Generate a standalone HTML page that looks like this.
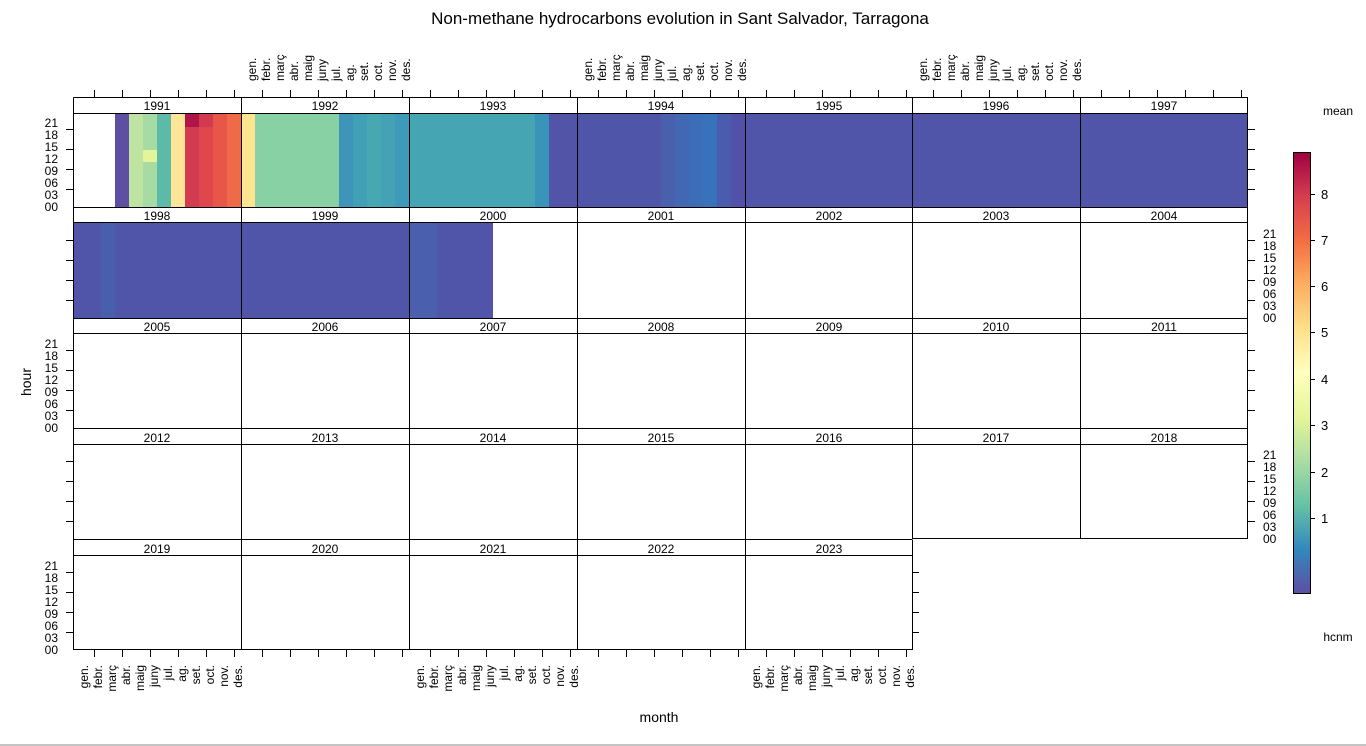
<!DOCTYPE html>
<html><head><meta charset="utf-8"><style>
html,body{margin:0;padding:0;background:#fff;}
svg{display:block;font-family:"Liberation Sans",sans-serif;}
text{fill:#000;}
</style></head><body>
<svg width="1366" height="746" viewBox="0 0 1366 746" xmlns="http://www.w3.org/2000/svg">
<text x="680" y="24" font-size="17" text-anchor="middle">Non-methane hydrocarbons evolution in Sant Salvador, Tarragona</text>
<text transform="translate(31,382) rotate(-90)" font-size="14" text-anchor="middle">hour</text>
<text x="659" y="722" font-size="14" text-anchor="middle">month</text>
<text x="1338" y="115" font-size="12" text-anchor="middle">mean</text>
<text x="1338" y="641" font-size="12" text-anchor="middle">hcnm</text>

<g shape-rendering="crispEdges">
<rect x="115" y="113" width="14" height="94" fill="#5e4fa2"/>
<rect x="129" y="113" width="14" height="94" fill="#bfe3a0"/>
<rect x="143" y="113" width="14" height="94" fill="#a6dba4"/>
<rect x="143" y="150" width="14" height="12" fill="#e4f49a"/>
<rect x="157" y="113" width="14" height="94" fill="#5dbaa8"/>
<rect x="171" y="113" width="14" height="94" fill="#fee597"/>
<rect x="185" y="113" width="14" height="94" fill="#d33b50"/>
<rect x="185" y="113" width="14" height="14" fill="#b01548"/>
<rect x="199" y="113" width="14" height="94" fill="#e0474c"/>
<rect x="199" y="113" width="14" height="14" fill="#d43a4f"/>
<rect x="213" y="113" width="14" height="94" fill="#e8564a"/>
<rect x="227" y="113" width="14" height="94" fill="#ef6a46"/>
<rect x="241" y="113" width="14" height="94" fill="#fde48e"/>
<rect x="255" y="113" width="84" height="94" fill="#88d1a4"/>
<rect x="339" y="113" width="14" height="94" fill="#3d96b9"/>
<rect x="353" y="113" width="14" height="94" fill="#42a0b6"/>
<rect x="367" y="113" width="14" height="94" fill="#48a8b2"/>
<rect x="381" y="113" width="14" height="94" fill="#44a2b4"/>
<rect x="395" y="113" width="14" height="94" fill="#3d9ab8"/>
<rect x="409" y="113" width="126" height="94" fill="#45a5b2"/>
<rect x="535" y="113" width="14" height="94" fill="#3a94ba"/>
<rect x="549" y="113" width="28" height="94" fill="#5254a8"/>
<rect x="577" y="113" width="84" height="94" fill="#4f56a9"/>
<rect x="661" y="113" width="14" height="94" fill="#4a60ad"/>
<rect x="675" y="113" width="14" height="94" fill="#4068b3"/>
<rect x="689" y="113" width="14" height="94" fill="#3b6eb7"/>
<rect x="703" y="113" width="14" height="94" fill="#3872ba"/>
<rect x="717" y="113" width="14" height="94" fill="#4a5cae"/>
<rect x="731" y="113" width="14" height="94" fill="#5151a9"/>
<rect x="745" y="113" width="503" height="94" fill="#5055a9"/>
<rect x="73" y="222" width="420" height="96" fill="#5055a9"/>
<rect x="101" y="222" width="14" height="96" fill="#4a5eae"/>
<rect x="409" y="222" width="28" height="96" fill="#4a60ae"/>
</g>

<g fill="none" stroke="#000" stroke-width="1" shape-rendering="crispEdges">
<path d="M73.5 97.5H1247.5V538.5H912.5M73.5 97.5V649.5H912.5V539.5M73 539.5H912"/>
<path d="M73 113.5H1248M73 207.5H1248M73 222.5H1248M73 318.5H1248M73 333.5H1248M73 428.5H1248M73 444.5H1248M73 555.5H912
M241.5 97V650M409.5 97V650M577.5 97V650M745.5 97V650M912.5 97V539M1080.5 97V539"/>
<path d="M66 129.5H73M66 149.5H73M66 169.5H73M66 189.5H73
M66 240.5H73M66 260.5H73M66 280.5H73M66 300.5H73
M66 350.5H73M66 370.5H73M66 390.5H73M66 410.5H73
M66 461.5H73M66 481.5H73M66 501.5H73M66 521.5H73
M66 572.5H73M66 592.5H73M66 612.5H73M66 632.5H73"/>
<path d="M1248 129.5H1255M1248 149.5H1255M1248 169.5H1255M1248 189.5H1255
M1248 240.5H1255M1248 260.5H1255M1248 280.5H1255M1248 300.5H1255
M1248 350.5H1255M1248 370.5H1255M1248 390.5H1255M1248 410.5H1255
M1248 461.5H1255M1248 481.5H1255M1248 501.5H1255M1248 521.5H1255
M912 572.5H919M912 592.5H919M912 612.5H919M912 632.5H919"/>
<path d="M94.5 90V97M122.5 90V97M150.5 90V97M178.5 90V97M206.5 90V97M234.5 90V97
M262.5 90V97M290.5 90V97M318.5 90V97M346.5 90V97M374.5 90V97M402.5 90V97
M430.5 90V97M458.5 90V97M486.5 90V97M514.5 90V97M542.5 90V97M570.5 90V97
M598.5 90V97M626.5 90V97M654.5 90V97M682.5 90V97M710.5 90V97M738.5 90V97
M766.5 90V97M794.5 90V97M822.5 90V97M850.5 90V97M878.5 90V97M906.5 90V97
M933.5 90V97M961.5 90V97M989.5 90V97M1017.5 90V97M1045.5 90V97M1073.5 90V97
M1101.5 90V97M1129.5 90V97M1157.5 90V97M1185.5 90V97M1213.5 90V97M1241.5 90V97"/>
<path d="M94.5 650V657M122.5 650V657M150.5 650V657M178.5 650V657M206.5 650V657M234.5 650V657
M262.5 650V657M290.5 650V657M318.5 650V657M346.5 650V657M374.5 650V657M402.5 650V657
M430.5 650V657M458.5 650V657M486.5 650V657M514.5 650V657M542.5 650V657M570.5 650V657
M598.5 650V657M626.5 650V657M654.5 650V657M682.5 650V657M710.5 650V657M738.5 650V657
M766.5 650V657M794.5 650V657M822.5 650V657M850.5 650V657M878.5 650V657M906.5 650V657"/>
</g>

<g font-size="12" text-anchor="middle">
<text x="157" y="110">1991</text><text x="325" y="110">1992</text><text x="493" y="110">1993</text><text x="661" y="110">1994</text><text x="829" y="110">1995</text><text x="996" y="110">1996</text><text x="1164" y="110">1997</text>
<text x="157" y="220">1998</text><text x="325" y="220">1999</text><text x="493" y="220">2000</text><text x="661" y="220">2001</text><text x="829" y="220">2002</text><text x="996" y="220">2003</text><text x="1164" y="220">2004</text>
<text x="157" y="331">2005</text><text x="325" y="331">2006</text><text x="493" y="331">2007</text><text x="661" y="331">2008</text><text x="829" y="331">2009</text><text x="996" y="331">2010</text><text x="1164" y="331">2011</text>
<text x="157" y="442">2012</text><text x="325" y="442">2013</text><text x="493" y="442">2014</text><text x="661" y="442">2015</text><text x="829" y="442">2016</text><text x="996" y="442">2017</text><text x="1164" y="442">2018</text>
<text x="157" y="553">2019</text><text x="325" y="553">2020</text><text x="493" y="553">2021</text><text x="661" y="553">2022</text><text x="829" y="553">2023</text>
</g>

<g font-size="12" text-anchor="end">
<text x="58" y="127">21</text><text x="58" y="139">18</text><text x="58" y="151">15</text><text x="58" y="163">12</text><text x="58" y="175">09</text><text x="58" y="187">06</text><text x="58" y="199">03</text><text x="58" y="211">00</text>
<text x="58" y="348">21</text><text x="58" y="360">18</text><text x="58" y="372">15</text><text x="58" y="384">12</text><text x="58" y="396">09</text><text x="58" y="408">06</text><text x="58" y="420">03</text><text x="58" y="432">00</text>
<text x="58" y="570">21</text><text x="58" y="582">18</text><text x="58" y="594">15</text><text x="58" y="606">12</text><text x="58" y="618">09</text><text x="58" y="630">06</text><text x="58" y="642">03</text><text x="58" y="654">00</text>
</g>
<g font-size="12" text-anchor="start">
<text x="1263" y="238">21</text><text x="1263" y="250">18</text><text x="1263" y="262">15</text><text x="1263" y="274">12</text><text x="1263" y="286">09</text><text x="1263" y="298">06</text><text x="1263" y="310">03</text><text x="1263" y="322">00</text>
<text x="1263" y="459">21</text><text x="1263" y="471">18</text><text x="1263" y="483">15</text><text x="1263" y="495">12</text><text x="1263" y="507">09</text><text x="1263" y="519">06</text><text x="1263" y="531">03</text><text x="1263" y="543">00</text>
</g>

<g font-size="12" text-anchor="start">
<text transform="translate(256,81) rotate(-90)">gen.</text><text transform="translate(270,81) rotate(-90)">febr.</text><text transform="translate(284,81) rotate(-90)">març</text><text transform="translate(298,81) rotate(-90)">abr.</text><text transform="translate(312,81) rotate(-90)">maig</text><text transform="translate(326,81) rotate(-90)">juny</text><text transform="translate(340,81) rotate(-90)">jul.</text><text transform="translate(354,81) rotate(-90)">ag.</text><text transform="translate(368,81) rotate(-90)">set.</text><text transform="translate(382,81) rotate(-90)">oct.</text><text transform="translate(396,81) rotate(-90)">nov.</text><text transform="translate(410,81) rotate(-90)">des.</text>
<text transform="translate(592,81) rotate(-90)">gen.</text><text transform="translate(606,81) rotate(-90)">febr.</text><text transform="translate(620,81) rotate(-90)">març</text><text transform="translate(634,81) rotate(-90)">abr.</text><text transform="translate(648,81) rotate(-90)">maig</text><text transform="translate(662,81) rotate(-90)">juny</text><text transform="translate(676,81) rotate(-90)">jul.</text><text transform="translate(690,81) rotate(-90)">ag.</text><text transform="translate(704,81) rotate(-90)">set.</text><text transform="translate(718,81) rotate(-90)">oct.</text><text transform="translate(732,81) rotate(-90)">nov.</text><text transform="translate(746,81) rotate(-90)">des.</text>
<text transform="translate(927,81) rotate(-90)">gen.</text><text transform="translate(941,81) rotate(-90)">febr.</text><text transform="translate(955,81) rotate(-90)">març</text><text transform="translate(969,81) rotate(-90)">abr.</text><text transform="translate(983,81) rotate(-90)">maig</text><text transform="translate(997,81) rotate(-90)">juny</text><text transform="translate(1011,81) rotate(-90)">jul.</text><text transform="translate(1025,81) rotate(-90)">ag.</text><text transform="translate(1039,81) rotate(-90)">set.</text><text transform="translate(1053,81) rotate(-90)">oct.</text><text transform="translate(1067,81) rotate(-90)">nov.</text><text transform="translate(1081,81) rotate(-90)">des.</text>
</g>
<g font-size="12" text-anchor="end">
<text transform="translate(88,665) rotate(-90)">gen.</text><text transform="translate(102,665) rotate(-90)">febr.</text><text transform="translate(116,665) rotate(-90)">març</text><text transform="translate(130,665) rotate(-90)">abr.</text><text transform="translate(144,665) rotate(-90)">maig</text><text transform="translate(158,665) rotate(-90)">juny</text><text transform="translate(172,665) rotate(-90)">jul.</text><text transform="translate(186,665) rotate(-90)">ag.</text><text transform="translate(200,665) rotate(-90)">set.</text><text transform="translate(214,665) rotate(-90)">oct.</text><text transform="translate(228,665) rotate(-90)">nov.</text><text transform="translate(242,665) rotate(-90)">des.</text>
<text transform="translate(424,665) rotate(-90)">gen.</text><text transform="translate(438,665) rotate(-90)">febr.</text><text transform="translate(452,665) rotate(-90)">març</text><text transform="translate(466,665) rotate(-90)">abr.</text><text transform="translate(480,665) rotate(-90)">maig</text><text transform="translate(494,665) rotate(-90)">juny</text><text transform="translate(508,665) rotate(-90)">jul.</text><text transform="translate(522,665) rotate(-90)">ag.</text><text transform="translate(536,665) rotate(-90)">set.</text><text transform="translate(550,665) rotate(-90)">oct.</text><text transform="translate(564,665) rotate(-90)">nov.</text><text transform="translate(578,665) rotate(-90)">des.</text>
<text transform="translate(760,665) rotate(-90)">gen.</text><text transform="translate(774,665) rotate(-90)">febr.</text><text transform="translate(788,665) rotate(-90)">març</text><text transform="translate(802,665) rotate(-90)">abr.</text><text transform="translate(816,665) rotate(-90)">maig</text><text transform="translate(830,665) rotate(-90)">juny</text><text transform="translate(844,665) rotate(-90)">jul.</text><text transform="translate(858,665) rotate(-90)">ag.</text><text transform="translate(872,665) rotate(-90)">set.</text><text transform="translate(886,665) rotate(-90)">oct.</text><text transform="translate(900,665) rotate(-90)">nov.</text><text transform="translate(914,665) rotate(-90)">des.</text>
</g>

<defs>
<linearGradient id="sp" x1="0" y1="1" x2="0" y2="0">
<stop offset="0" stop-color="#5e4fa2"/>
<stop offset="0.1" stop-color="#3288bd"/>
<stop offset="0.2" stop-color="#66c2a5"/>
<stop offset="0.3" stop-color="#abdda4"/>
<stop offset="0.4" stop-color="#e6f598"/>
<stop offset="0.5" stop-color="#ffffbf"/>
<stop offset="0.6" stop-color="#fee08b"/>
<stop offset="0.7" stop-color="#fdae61"/>
<stop offset="0.8" stop-color="#f46d43"/>
<stop offset="0.9" stop-color="#d53e4f"/>
<stop offset="1" stop-color="#9e0142"/>
</linearGradient>
</defs>
<rect x="1293.5" y="152.5" width="17" height="441" fill="url(#sp)" stroke="#000" stroke-width="1"/>
<path d="M1310 194.5H1315M1310 240.5H1315M1310 286.5H1315M1310 332.5H1315M1310 379.5H1315M1310 425.5H1315M1310 472.5H1315M1310 518.5H1315" stroke="#000" shape-rendering="crispEdges"/>
<g font-size="13">
<text x="1321" y="199">8</text><text x="1321" y="245">7</text><text x="1321" y="291">6</text><text x="1321" y="337">5</text><text x="1321" y="384">4</text><text x="1321" y="430">3</text><text x="1321" y="477">2</text><text x="1321" y="523">1</text>
</g>
<line x1="0" y1="745" x2="1366" y2="745" stroke="#888" stroke-width="1"/>
</svg>
</body></html>
